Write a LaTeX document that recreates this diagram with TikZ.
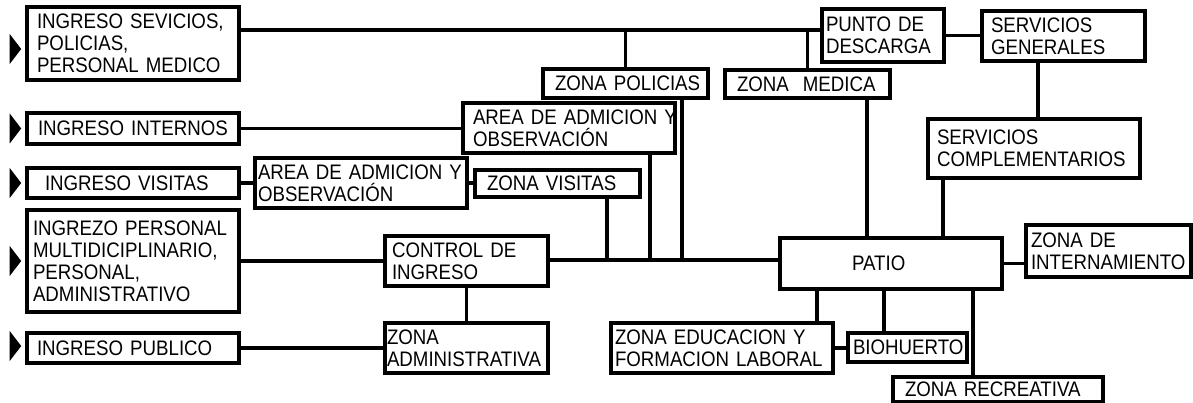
\documentclass[tikz,border=0pt]{standalone}
\usepackage{fontspec}
\setmainfont{Liberation Sans}[FakeStretch=0.89]
\newcommand\bx[7]{%
 \pgfmathsetmacro\bxcx{(#2+#4)/2}%
 \pgfmathsetmacro\bxcy{(#3+#5)/2}%
 \pgfmathsetmacro\bxtw{#4-#2-2*#6}%
 \pgfmathsetmacro\bxh{#5-#3}%
 \node[box, text width=\bxtw pt, inner xsep=#6pt, minimum height=\bxh pt] (#1) at (\bxcx,\bxcy) {#7};}
\newcommand\tri[2]{\fill ([shift={(-15.5pt,#2pt+15pt)}]#1.west) -- ([shift={(-4pt,#2pt)}]#1.west) -- ([shift={(-15.5pt,#2pt-15pt)}]#1.west) -- cycle;}
\begin{document}
\begin{tikzpicture}[x=1pt,y=-1pt,
 box/.style={draw, line width=3.6pt, rectangle, inner ysep=0pt, align=left,
   font=\fontsize{21}{22}\selectfont,
   execute at begin node={\hyphenpenalty=10000\exhyphenpenalty=10000}},
 conn/.style={line width=3.6pt}]
\useasboundingbox (0,0) rectangle (1193,403);
\bx{ISERV}{27}{7}{239}{80}{10}{INGRESO~SEVICIOS,\\POLICIAS,\\PERSONAL~MEDICO}
\bx{INTERNOS}{27}{113}{239}{144}{11}{INGRESO~INTERNOS}
\bx{VISITAS}{27}{168}{239}{198}{18}{INGRESO~VISITAS}
\bx{PERSONAL}{27}{210}{239}{312}{6}{INGREZO~PERSONAL\\MULTIDICIPLINARIO,\\PERSONAL,\\ADMINISTRATIVO}
\bx{PUBLICO}{27}{333}{239}{363}{10}{INGRESO~PUBLICO}
\bx{AREA2}{255}{158}{467}{208}{3}{AREA~DE~ADMICION~Y\\OBSERVACIÓN}
\bx{AREA1}{463}{103}{675}{153}{10}{AREA~DE~ADMICION~Y\\OBSERVACIÓN}
\bx{ZVIS}{475}{170}{640}{197}{12}{ZONA~VISITAS}
\bx{ZPOL}{543}{69}{708}{98}{12}{ZONA~POLICIAS}
\bx{ZMED}{725}{70}{890}{98}{12}{ZONA~~MEDICA}
\bx{PUNTO}{822}{9}{944}{62}{4}{PUNTO~DE\\DESCARGA}
\bx{SG}{982}{11}{1145}{61}{9}{SERVICIOS\\GENERALES}
\bx{SC}{928}{119}{1140}{178}{9}{SERVICIOS\\COMPLEMENTARIOS}
\bx{PATIO}{780}{238}{1002}{289}{72}{PATIO}
\bx{ZINT}{1026}{225}{1191}{277}{5}{ZONA~DE\\INTERNAMIENTO}
\bx{CONTROL}{385}{236}{548}{286}{7}{CONTROL~DE\\INGRESO}
\bx{ZADM}{385}{323}{548}{373}{2}{ZONA\\ADMINISTRATIVA}
\bx{EDU}{611}{323}{833}{373}{4}{ZONA~EDUCACION~Y\\FORMACION~LABORAL}
\bx{BIO}{848}{333}{967}{362}{5}{BIOHUERTO}
\bx{ZREC}{893}{377}{1103}{402}{12}{ZONA~RECREATIVA}
\tri{ISERV}{-5.5}
\tri{INTERNOS}{0}
\tri{VISITAS}{0}
\tri{PERSONAL}{0}
\tri{PUBLICO}{2}
\coordinate (t) at (0,30);
\coordinate (m) at (0,260);
\coordinate (vzv) at (607,0);
\coordinate (va1) at (650,0);
\coordinate (vzp) at (682,0);
\coordinate (vm) at (867,0);
\coordinate (vc) at (943,0);
\coordinate (ve) at (817,0);
\coordinate (vb) at (884,0);
\coordinate (vr) at (973,0);
\coordinate (vs) at (1038,0);
\draw[conn] (ISERV.east |- t) -- (PUNTO.west |- t);
\draw[conn] (ZPOL.north) -- (ZPOL.north |- t);
\draw[conn] (ZMED.north) -- (ZMED.north |- t);
\draw[conn] (PUNTO.east) -- (SG.west |- PUNTO.east);
\draw[conn] (SG.south -| vs) -- (SC.north -| vs);
\draw[conn] (ZMED.south -| vm) -- (PATIO.north -| vm);
\draw[conn] (SC.south -| vc) -- (PATIO.north -| vc);
\draw[conn] (PATIO.east) -- (ZINT.west |- PATIO.east);
\draw[conn] (PATIO.south -| ve) -- (EDU.north -| ve);
\draw[conn] (PATIO.south -| vb) -- (BIO.north -| vb);
\draw[conn] (PATIO.south -| vr) -- (ZREC.north -| vr);
\draw[conn] (EDU.east) -- (BIO.west |- EDU.east);
\draw[conn] (CONTROL.east |- m) -- (PATIO.west |- m);
\draw[conn] (ZVIS.south -| vzv) -- (vzv |- m);
\draw[conn] (AREA1.south -| va1) -- (va1 |- m);
\draw[conn] (ZPOL.south -| vzp) -- (vzp |- m);
\draw[conn] (PERSONAL.east) -- (CONTROL.west |- PERSONAL.east);
\draw[conn] (PUBLICO.east) -- (ZADM.west |- PUBLICO.east);
\draw[conn] (CONTROL.south) -- (ZADM.north);
\draw[conn] (INTERNOS.east) -- (AREA1.west |- INTERNOS.east);
\draw[conn] (VISITAS.east) -- (AREA2.west |- VISITAS.east);
\draw[conn] (AREA2.east) -- (ZVIS.west |- AREA2.east);
\end{tikzpicture}
\end{document}
